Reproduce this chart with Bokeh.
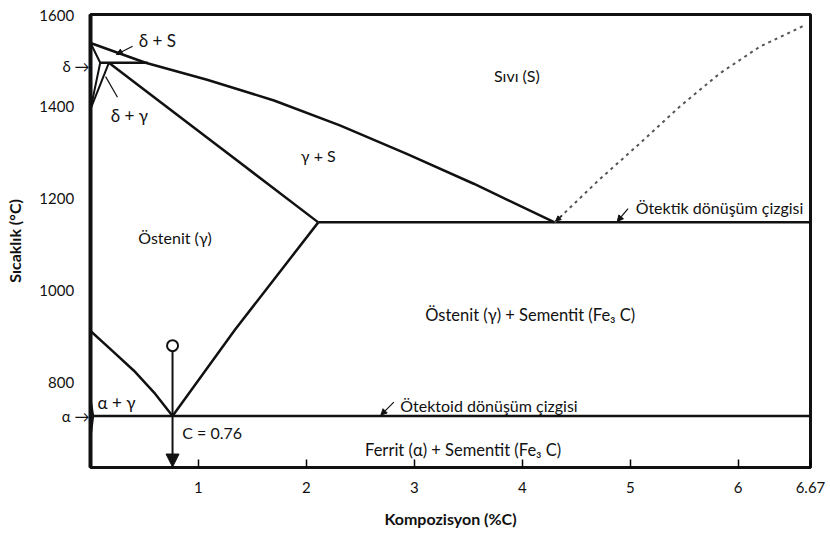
from bokeh.plotting import figure
from bokeh.models import Range1d, FixedTicker, Arrow, NormalHead
from bokeh.embed import file_html
from bokeh.resources import INLINE
from bokeh.core.properties import value

FONT = "Lato"
INK = "#111111"
NB = "\u00a0"

# axis ticks
x_ticks = [1, 2, 3, 4, 5, 6, 6.67]
y_ticks = [800, 1000, 1200, 1400, 1600]

# key compositions / temperatures of the Fe-Fe3C system
eutectoid_c, eutectoid_t = 0.76, 727
eutectic_c, eutectic_t = 4.3, 1148
gamma_max_c = 2.11
cementite_c = 6.67
peritectic_t = 1495
delta_mark_t = 1487

# liquidus (S | delta+S, S | gamma+S)
liquidus_c = [0.0, 0.51, 1.08, 1.70, 2.31, 2.93, 3.55, 4.3]
liquidus_t = [1538, 1495, 1458, 1413, 1359, 1297, 1232, 1148]
# solidus of austenite
solidus_c = [0.17, 2.11]
solidus_t = [1495, 1148]
# delta-ferrite field
delta_c = [0.0, 0.09, 0.0]
delta_t = [1538, 1495, 1394]
# delta + gamma field lower edge
dg_c = [0.0, 0.17]
dg_t = [1394, 1495]
# A3 line (gamma | alpha+gamma)
a3_c = [0.0, 0.2, 0.4, 0.6, 0.76]
a3_t = [912, 869, 826, 775, 727]
# Acm line (gamma | gamma+Fe3C)
acm_c = [0.76, 1.34, 2.11]
acm_t = [727, 915, 1148]
# alpha-ferrite field
alpha_c = [0.0, 0.025, 0.0]
alpha_t = [765, 727, 680]
# cementite liquidus (dashed)
fe3c_liq_c = [4.3, 4.7, 5.09, 5.45, 5.83, 6.2, 6.62]
fe3c_liq_t = [1148, 1238, 1320, 1398, 1472, 1530, 1577]
# alloy marker
alloy_start_t = 880

p = figure(width=830, height=535, x_range=Range1d(0, cementite_c), y_range=Range1d(615, 1600),
           output_backend="svg", toolbar_location=None,
           min_border_left=90, min_border_right=20, min_border_top=14, min_border_bottom=68)
p.background_fill_color = "white"
p.border_fill_color = "white"
p.outline_line_color = INK
p.outline_line_width = 3
p.xgrid.visible = False
p.ygrid.visible = False

xa = p.xaxis[0]
xa.ticker = FixedTicker(ticks=x_ticks)
xa.major_label_overrides = {6.67: "6.67"}
xa.axis_line_width = 3
xa.axis_line_color = INK
xa.major_tick_in = 8
xa.major_tick_out = 0
xa.major_tick_line_width = 1.5
xa.minor_tick_line_color = None
xa.major_label_text_font = FONT
xa.major_label_text_font_size = "15px"
xa.major_label_text_color = INK
xa.major_label_standoff = 14
xa.axis_label = "Kompozisyon (%C)"
xa.axis_label_text_font = FONT
xa.axis_label_text_font_size = "16px"
xa.axis_label_text_font_style = "bold"
xa.axis_label_text_color = INK
xa.axis_label_standoff = 13

# temperature axis: numbers plus the two ferrite symbols with pointer arrows
ya = p.yaxis[0]
ya.ticker = FixedTicker(ticks=[eutectoid_t] + y_ticks + [delta_mark_t])
labels = {t: f"{t}" + NB * 4 for t in y_ticks}
labels[eutectoid_t] = "α" + NB + "→"
labels[delta_mark_t] = "δ" + NB + "→"
ya.major_label_overrides = labels
ya.axis_line_width = 4
ya.axis_line_color = INK
ya.major_tick_in = 0
ya.major_tick_out = 0
ya.minor_tick_line_color = None
ya.major_label_text_font = FONT
ya.major_label_text_font_size = "15px"
ya.major_label_text_color = INK
ya.major_label_standoff = 1
ya.axis_label = "Sıcaklık (°C)"
ya.axis_label_text_font = FONT
ya.axis_label_text_font_size = "16px"
ya.axis_label_text_font_style = "bold"
ya.axis_label_text_color = INK
ya.axis_label_standoff = 12

LW = 2.5
p.line(liquidus_c, liquidus_t, line_width=LW, line_color=INK)
p.line(solidus_c, solidus_t, line_width=LW, line_color=INK)
p.line(delta_c, delta_t, line_width=2, line_color=INK)
p.line(dg_c, dg_t, line_width=2, line_color=INK)
p.line([0.09, 0.53], [peritectic_t, peritectic_t], line_width=LW, line_color=INK)
p.line(a3_c, a3_t, line_width=LW, line_color=INK)
p.line(acm_c, acm_t, line_width=LW, line_color=INK)
p.line(alpha_c, alpha_t, line_width=2, line_color=INK)
p.line([gamma_max_c, cementite_c], [eutectic_t, eutectic_t], line_width=LW, line_color=INK)
p.line([0.022, cementite_c], [eutectoid_t, eutectoid_t], line_width=LW, line_color=INK)
p.line(fe3c_liq_c, fe3c_liq_t, line_width=2, line_color="#555555", line_dash="3 4")

# alloy of eutectoid composition cooled from the austenite field
p.add_layout(Arrow(x_start=eutectoid_c, y_start=alloy_start_t - 11, x_end=eutectoid_c, y_end=616,
                   line_width=2, line_color=INK,
                   end=NormalHead(size=13, fill_color=INK, line_color=INK)))
p.scatter([eutectoid_c], [alloy_start_t], marker="circle", size=11,
          fill_color="white", line_color=INK, line_width=2)


def small_arrow(x0, y0, x1, y1, size=6, width=1.2):
    p.add_layout(Arrow(x_start=x0, y_start=y0, x_end=x1, y_end=y1,
                       line_width=width, line_color=INK,
                       end=NormalHead(size=size, fill_color=INK, line_color=INK)))


small_arrow(0.39, 1531, 0.24, 1513)
small_arrow(4.98, 1178, 4.88, 1150)
small_arrow(2.81, 757, 2.69, 729)
small_arrow(4.37, 1163, 4.31, 1151, size=5, width=1)
p.line([0.25, 0.14], [1420, 1465], line_width=1.2, line_color=INK)


def txt(x, y, s, align="center", size="16px"):
    p.text(x=[x], y=[y], text=[s], text_font=value(FONT), text_font_size=size,
           text_align=align, text_baseline="middle", text_color=INK)


txt(0.62, 1543, "δ + S", size="17px")
txt(0.36, 1380, "δ + γ", size="17px")
txt(3.95, 1467, "Sıvı (S)")
txt(2.11, 1293, "γ + S")
txt(0.78, 1115, "Östenit (γ)")
txt(4.07, 946, "Östenit (γ) + Sementit (Fe₃ C)", size="16.5px")
txt(3.45, 652, "Ferrit (α) + Sementit (Fe₃ C)", size="16.5px")
txt(5.05, 1180, "Ötektik dönüşüm çizgisi", align="left")
txt(2.87, 750, "Ötektoid dönüşüm çizgisi", align="left")
txt(0.85, 691, "C = 0.76", align="left")
txt(0.065, 757, "α + γ", align="left", size="17px")

open("out.html", "w").write(file_html(p, INLINE))
